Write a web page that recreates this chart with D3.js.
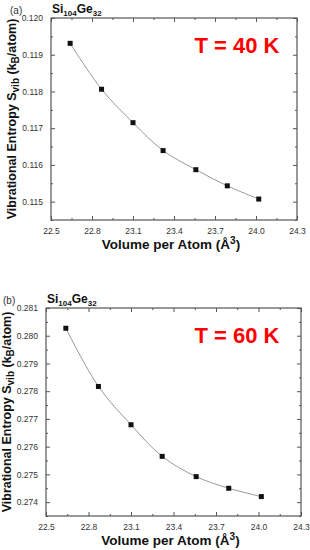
<!DOCTYPE html>
<html>
<head>
<meta charset="utf-8">
<script src="https://cdn.jsdelivr.net/npm/d3@7"></script>
<style>
  body { margin: 0; background: #fff; }
  svg { font-family: "Liberation Sans", Arial, sans-serif; }
  .axis path { display: none; }
  .axis line { stroke: #555; }
  .axis text { fill: #333; font-size: 8.5px; }
</style>
</head>
<body>
<div id="chart-area"></div>
<script>
// data
var volume = [22.64, 22.87, 23.10, 23.32, 23.56, 23.79, 24.02];
var entropy40K = [0.11931, 0.11806, 0.11715, 0.11639, 0.11587, 0.11543, 0.11507];
var entropy60K = [0.28027, 0.27817, 0.27679, 0.27565, 0.27492, 0.27450, 0.27420];
var xTicks = [22.5, 22.8, 23.1, 23.4, 23.7, 24.0, 24.3];
var yTicks40 = [0.115, 0.116, 0.117, 0.118, 0.119, 0.120];
var yTicks60 = [0.274, 0.275, 0.276, 0.277, 0.278, 0.279, 0.280, 0.281];
var panelTags = ["(a)", "(b)"];
var tempLabels = ["T = 40 K", "T = 60 K"];

var svg = d3.select("#chart-area").append("svg")
    .attr("width", 310)
    .attr("height", 550);

var panels = [
    { tag: panelTags[0], temp: tempLabels[0], values: entropy40K, yTicks: yTicks40,
      yDomain: [0.1145, 0.120], left: 51, right: 297, top: 18, bottom: 220, off: 0, labX: 16 },
    { tag: panelTags[1], temp: tempLabels[1], values: entropy60K, yTicks: yTicks60,
      yDomain: [0.2735, 0.281], left: 46, right: 301, top: 308, bottom: 516, off: 290, labX: 11 }
];

panels.forEach((p) => {
    var x = d3.scaleLinear().domain([22.5, 24.3]).range([p.left, p.right]);
    var y = d3.scaleLinear().domain(p.yDomain).range([p.bottom, p.top]);

    var xMinor = d3.range(22.65, 24.3, 0.3);
    var yMinor = p.yTicks.map((t) => t + 0.0005).filter((t) => t < p.yDomain[1]);
    if (p.yDomain[0] < p.yTicks[0] - 0.0004) yMinor.push(p.yTicks[0] - 0.0005);

    var g = svg.append("g");

    // major ticks, inward
    g.append("g").attr("class", "axis")
        .attr("transform", "translate(0," + p.bottom + ")")
        .call(d3.axisBottom(x).tickValues(xTicks).tickSize(-4).tickPadding(8)
            .tickFormat(d3.format(".1f")));
    g.append("g").attr("class", "axis")
        .attr("transform", "translate(0," + p.top + ")")
        .call(d3.axisTop(x).tickValues(xTicks).tickSize(-4).tickFormat(""));
    g.append("g").attr("class", "axis")
        .attr("transform", "translate(" + p.left + ",0)")
        .call(d3.axisLeft(y).tickValues(p.yTicks).tickSize(-4).tickPadding(8)
            .tickFormat(d3.format(".3f")));
    g.append("g").attr("class", "axis")
        .attr("transform", "translate(" + p.right + ",0)")
        .call(d3.axisRight(y).tickValues(p.yTicks).tickSize(-4).tickFormat(""));

    // minor ticks
    g.append("g").attr("class", "axis")
        .attr("transform", "translate(0," + p.bottom + ")")
        .call(d3.axisBottom(x).tickValues(xMinor).tickSize(-2).tickFormat(""));
    g.append("g").attr("class", "axis")
        .attr("transform", "translate(0," + p.top + ")")
        .call(d3.axisTop(x).tickValues(xMinor).tickSize(-2).tickFormat(""));
    g.append("g").attr("class", "axis")
        .attr("transform", "translate(" + p.left + ",0)")
        .call(d3.axisLeft(y).tickValues(yMinor).tickSize(-2).tickFormat(""));
    g.append("g").attr("class", "axis")
        .attr("transform", "translate(" + p.right + ",0)")
        .call(d3.axisRight(y).tickValues(yMinor).tickSize(-2).tickFormat(""));

    // frame
    g.append("rect")
        .attr("x", p.left)
        .attr("y", p.top)
        .attr("width", p.right - p.left)
        .attr("height", p.bottom - p.top)
        .attr("fill", "none")
        .attr("stroke", "#555")
        .attr("stroke-width", 1.2);

    var pts = volume.map((v, i) => [v, p.values[i]]);

    g.append("path")
        .datum(pts)
        .attr("fill", "none")
        .attr("stroke", "#999")
        .attr("stroke-width", 1)
        .attr("d", d3.line().x((d) => x(d[0])).y((d) => y(d[1])).curve(d3.curveCatmullRom));

    g.selectAll("rect.pt").data(pts).enter().append("rect")
        .attr("class", "pt")
        .attr("x", (d) => x(d[0]) - 2.5)
        .attr("y", (d) => y(d[1]) - 2.5)
        .attr("width", 5)
        .attr("height", 5)
        .attr("fill", "#111");

    // panel tag
    g.append("text")
        .attr("x", p.off ? 3 : 10).attr("y", p.off + 14)
        .attr("font-size", 10).attr("fill", "#333")
        .text(p.tag);

    // compound label
    var comp = g.append("text")
        .attr("x", p.left + 1).attr("y", p.off + 13)
        .attr("font-size", 12).attr("font-weight", "bold").attr("fill", "#111");
    comp.append("tspan").text("Si");
    comp.append("tspan").attr("font-size", 8).attr("dy", 3).text("104");
    comp.append("tspan").attr("dy", -3).text("Ge");
    comp.append("tspan").attr("font-size", 8).attr("dy", 3).text("32");

    // temperature
    g.append("text")
        .attr("x", 237).attr("y", p.off + 53)
        .attr("text-anchor", "middle")
        .attr("font-size", 22).attr("font-weight", "bold").attr("fill", "#f00")
        .text(p.temp);

    // y label
    var cy = (p.top + p.bottom) / 2;
    var yl = g.append("text")
        .attr("transform", "translate(" + p.labX + "," + cy + ") rotate(-90)")
        .attr("text-anchor", "middle")
        .attr("font-size", 12.5).attr("font-weight", "bold").attr("fill", "#111");
    yl.append("tspan").text("Vibrational Entropy S");
    yl.append("tspan").attr("font-size", 10).attr("dy", 3).text("vib");
    yl.append("tspan").attr("dy", -3).text(" (k");
    yl.append("tspan").attr("font-size", 10).attr("dy", 3).text("B");
    yl.append("tspan").attr("dy", -3).text("/atom)");

    // x label
    var xl = g.append("text")
        .attr("x", (p.left + p.right) / 2 - 3).attr("y", p.bottom + 29)
        .attr("text-anchor", "middle")
        .attr("font-size", 13.5).attr("font-weight", "bold").attr("fill", "#111");
    xl.append("tspan").text("Volume per Atom (Å");
    xl.append("tspan").attr("font-size", 10).attr("dy", -5).text("3");
    xl.append("tspan").attr("dy", 5).text(")");
});
</script>
</body>
</html>
